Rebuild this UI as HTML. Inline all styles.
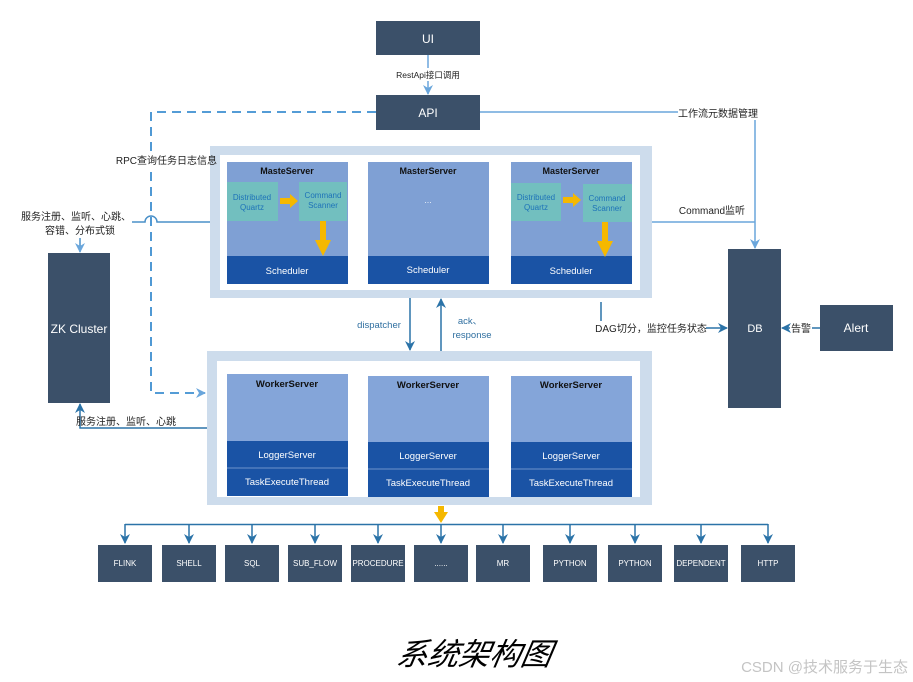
<!DOCTYPE html>
<html><head><meta charset="utf-8"><style>
html,body{margin:0;padding:0;background:#fff;}
svg{display:block;}
text{font-family:"Liberation Sans","Noto Sans CJK SC",sans-serif;}
</style></head><body>
<svg width="913" height="682" viewBox="0 0 913 682" xmlns="http://www.w3.org/2000/svg">
<defs>
<marker id="a1" markerWidth="10" markerHeight="10" refX="9" refY="5" orient="auto" markerUnits="userSpaceOnUse"><path d="M0,0 L10,5 L0,10 L3,5 Z" fill="#2b73a8"/></marker>
<marker id="a2" markerWidth="10" markerHeight="10" refX="9" refY="5" orient="auto" markerUnits="userSpaceOnUse"><path d="M0,0 L10,5 L0,10 L3,5 Z" fill="#6aa6dc"/></marker>
</defs>

<rect x="376" y="21" width="104" height="34" fill="#3b5069"/>
<text x="428" y="43" fill="#fff" font-size="12" text-anchor="middle">UI</text>
<line x1="428" y1="55" x2="428" y2="94" stroke="#6aa6dc" stroke-width="1.5" marker-end="url(#a2)"/>
<rect x="392" y="68" width="72" height="13" fill="#fff"/>
<text x="428" y="78" font-size="8.5" text-anchor="middle" fill="#222">RestApi接口调用</text>
<rect x="376" y="95" width="104" height="35" fill="#3b5069"/>
<text x="428" y="117" fill="#fff" font-size="12" text-anchor="middle">API</text>

<polyline points="480,112 755,112 755,248" fill="none" stroke="#6aa6dc" stroke-width="1.5" marker-end="url(#a2)"/>
<rect x="678" y="105" width="80" height="15" fill="#fff"/>
<text x="718" y="117" font-size="10" text-anchor="middle" fill="#222">工作流元数据管理</text>

<polyline points="376,112 151,112 151,393 205,393" fill="none" stroke="#3d8ed0" stroke-width="1.8" stroke-dasharray="9,6" marker-end="url(#a2)"/>

<path d="M210,222 L157,222 A6,6 0 0 0 145,222 L80,222" fill="none" stroke="#4a90c8" stroke-width="1.5"/>
<line x1="80" y1="232" x2="80" y2="252" stroke="#4a90c8" stroke-width="1.5" marker-end="url(#a2)"/>
<rect x="24" y="210" width="108" height="28" fill="#fff"/>
<text x="76" y="220" font-size="10" text-anchor="middle" fill="#222">服务注册、监听、心跳、</text>
<text x="80" y="234" font-size="10" text-anchor="middle" fill="#222">容错、分布式锁</text>

<polyline points="207,428 80,428 80,404" fill="none" stroke="#2b73a8" stroke-width="1.5" marker-end="url(#a1)"/>
<text x="126" y="425" font-size="10" text-anchor="middle" fill="#222">服务注册、监听、心跳</text>

<rect x="48" y="253" width="62" height="150" fill="#3b5069"/>
<text x="79" y="333" fill="#fff" font-size="12" text-anchor="middle">ZK Cluster</text>

<rect x="210" y="146" width="442" height="152" fill="#cddcec"/>
<rect x="220" y="155" width="420" height="135" fill="#fff"/>
<rect x="118" y="153" width="92" height="14" fill="#fff"/>
<text x="217" y="164" font-size="10" text-anchor="end" fill="#222">RPC查询任务日志信息</text>
<g>
<rect x="227" y="162" width="121" height="122" fill="#7fa0d4"/>
<rect x="227" y="256" width="121" height="28" fill="#1a53a5"/>
<text x="287" y="174" font-size="9" text-anchor="middle" fill="#111" font-weight="600">MasteServer</text>
<text x="287" y="274" font-size="9.5" text-anchor="middle" fill="#fff">Scheduler</text>
<rect x="227" y="182" width="51" height="39" fill="#72bfbf"/>
<text x="252" y="200" font-size="8" text-anchor="middle" fill="#1d72b8">Distributed</text>
<text x="252" y="210" font-size="8" text-anchor="middle" fill="#1d72b8">Quartz</text>
<rect x="299" y="182" width="48" height="39" fill="#72bfbf"/>
<text x="323" y="198" font-size="8" text-anchor="middle" fill="#1d72b8">Command</text>
<text x="323" y="208" font-size="8" text-anchor="middle" fill="#1d72b8">Scanner</text>
<path d="M280,198 L290,198 L290,194 L298,201 L290,208 L290,204 L280,204 Z" fill="#f5b800"/>
<path d="M320,221 L326,221 L326,240 L331,240 L323,256 L315,240 L320,240 Z" fill="#f5b800"/>
</g>
<rect x="368" y="162" width="121" height="122" fill="#7fa0d4"/>
<rect x="368" y="256" width="121" height="28" fill="#1a53a5"/>
<text x="428" y="174" font-size="9" text-anchor="middle" fill="#111" font-weight="600">MasterServer</text>
<text x="428" y="203" font-size="9" text-anchor="middle" fill="#e8eef8">...</text>
<text x="428" y="273" font-size="9.5" text-anchor="middle" fill="#fff">Scheduler</text>
<g>
<rect x="511" y="162" width="121" height="122" fill="#7fa0d4"/>
<rect x="511" y="256" width="121" height="28" fill="#1a53a5"/>
<text x="571" y="174" font-size="9" text-anchor="middle" fill="#111" font-weight="600">MasterServer</text>
<text x="571" y="274" font-size="9.5" text-anchor="middle" fill="#fff">Scheduler</text>
<rect x="511" y="183" width="50" height="38" fill="#72bfbf"/>
<text x="536" y="200" font-size="8" text-anchor="middle" fill="#1d72b8">Distributed</text>
<text x="536" y="210" font-size="8" text-anchor="middle" fill="#1d72b8">Quartz</text>
<rect x="583" y="184" width="49" height="38" fill="#72bfbf"/>
<text x="607" y="201" font-size="8" text-anchor="middle" fill="#1d72b8">Command</text>
<text x="607" y="211" font-size="8" text-anchor="middle" fill="#1d72b8">Scanner</text>
<path d="M563,197 L573,197 L573,193 L581,200 L573,207 L573,203 L563,203 Z" fill="#f5b800"/>
<path d="M602,222 L608,222 L608,241 L613,241 L605,257 L597,241 L602,241 Z" fill="#f5b800"/>
</g>

<line x1="652" y1="222" x2="755" y2="222" stroke="#6aa6dc" stroke-width="1.5"/>
<text x="712" y="214" font-size="10" text-anchor="middle" fill="#222">Command监听</text>

<line x1="410" y1="298" x2="410" y2="350" stroke="#2b73a8" stroke-width="1.5" marker-end="url(#a1)"/>
<line x1="441" y1="351" x2="441" y2="299" stroke="#2b73a8" stroke-width="1.5" marker-end="url(#a1)"/>
<text x="379" y="328" font-size="9.5" text-anchor="middle" fill="#2f6fa0">dispatcher</text>
<text x="470" y="324" font-size="9.5" text-anchor="middle" fill="#2f6fa0">ack、</text>
<text x="472" y="338" font-size="9.5" text-anchor="middle" fill="#2f6fa0">response</text>

<line x1="601" y1="302" x2="601" y2="321" stroke="#2b73a8" stroke-width="1.5"/>
<text x="651" y="332" font-size="10" text-anchor="middle" fill="#222">DAG切分，监控任务状态</text>
<line x1="706" y1="328" x2="727" y2="328" stroke="#2b73a8" stroke-width="1.5" marker-end="url(#a1)"/>

<rect x="728" y="249" width="53" height="159" fill="#3b5069"/>
<text x="755" y="332" fill="#fff" font-size="11" text-anchor="middle">DB</text>
<rect x="820" y="305" width="73" height="46" fill="#3b5069"/>
<text x="856" y="332" fill="#fff" font-size="12" text-anchor="middle">Alert</text>
<line x1="820" y1="328" x2="812" y2="328" stroke="#2b73a8" stroke-width="1.5"/>
<line x1="790" y1="328" x2="782" y2="328" stroke="#2b73a8" stroke-width="1.5" marker-end="url(#a1)"/>
<text x="801" y="332" font-size="10" text-anchor="middle" fill="#222">告警</text>

<rect x="207" y="351" width="445" height="154" fill="#cddcec"/>
<rect x="217" y="361" width="423" height="136" fill="#fff"/>
<g font-size="9.5" text-anchor="middle">
<rect x="227" y="374" width="121" height="122" fill="#84a5d9"/>
<rect x="227" y="441" width="121" height="55" fill="#1a53a5"/>
<line x1="227" y1="468" x2="348" y2="468" stroke="#6f93cc" stroke-width="1"/>
<text x="287" y="387" fill="#111" font-weight="600">WorkerServer</text>
<text x="287" y="458" fill="#fff">LoggerServer</text>
<text x="287" y="485" fill="#fff">TaskExecuteThread</text>
<rect x="368" y="376" width="121" height="121" fill="#84a5d9"/>
<rect x="368" y="442" width="121" height="55" fill="#1a53a5"/>
<line x1="368" y1="469" x2="489" y2="469" stroke="#6f93cc" stroke-width="1"/>
<text x="428" y="388" fill="#111" font-weight="600">WorkerServer</text>
<text x="428" y="459" fill="#fff">LoggerServer</text>
<text x="428" y="486" fill="#fff">TaskExecuteThread</text>
<rect x="511" y="376" width="121" height="121" fill="#84a5d9"/>
<rect x="511" y="442" width="121" height="55" fill="#1a53a5"/>
<line x1="511" y1="469" x2="632" y2="469" stroke="#6f93cc" stroke-width="1"/>
<text x="571" y="388" fill="#111" font-weight="600">WorkerServer</text>
<text x="571" y="459" fill="#fff">LoggerServer</text>
<text x="571" y="486" fill="#fff">TaskExecuteThread</text>
</g>

<path d="M438,506 L444,506 L444,512 L448,512 L441,523 L434,512 L438,512 Z" fill="#f5b800"/>

<line x1="125" y1="524.5" x2="768" y2="524.5" stroke="#2b73a8" stroke-width="1.5"/>
<g stroke="#2b73a8" stroke-width="1.5">
<line x1="125" y1="524" x2="125" y2="543" marker-end="url(#a1)"/>
<line x1="189" y1="524" x2="189" y2="543" marker-end="url(#a1)"/>
<line x1="252" y1="524" x2="252" y2="543" marker-end="url(#a1)"/>
<line x1="315" y1="524" x2="315" y2="543" marker-end="url(#a1)"/>
<line x1="378" y1="524" x2="378" y2="543" marker-end="url(#a1)"/>
<line x1="441" y1="524" x2="441" y2="543" marker-end="url(#a1)"/>
<line x1="503" y1="524" x2="503" y2="543" marker-end="url(#a1)"/>
<line x1="570" y1="524" x2="570" y2="543" marker-end="url(#a1)"/>
<line x1="635" y1="524" x2="635" y2="543" marker-end="url(#a1)"/>
<line x1="701" y1="524" x2="701" y2="543" marker-end="url(#a1)"/>
<line x1="768" y1="524" x2="768" y2="543" marker-end="url(#a1)"/>
</g>
<g fill="#3b5069">
<rect x="98" y="545" width="54" height="37"/>
<rect x="162" y="545" width="54" height="37"/>
<rect x="225" y="545" width="54" height="37"/>
<rect x="288" y="545" width="54" height="37"/>
<rect x="351" y="545" width="54" height="37"/>
<rect x="414" y="545" width="54" height="37"/>
<rect x="476" y="545" width="54" height="37"/>
<rect x="543" y="545" width="54" height="37"/>
<rect x="608" y="545" width="54" height="37"/>
<rect x="674" y="545" width="54" height="37"/>
<rect x="741" y="545" width="54" height="37"/>
</g>
<g fill="#fff" font-size="8" text-anchor="middle">
<text x="125" y="566">FLINK</text>
<text x="189" y="566">SHELL</text>
<text x="252" y="566">SQL</text>
<text x="315" y="566">SUB_FLOW</text>
<text x="378" y="566">PROCEDURE</text>
<text x="441" y="566">......</text>
<text x="503" y="566">MR</text>
<text x="570" y="566">PYTHON</text>
<text x="635" y="566">PYTHON</text>
<text x="701" y="566">DEPENDENT</text>
<text x="768" y="566">HTTP</text>
</g>

<text x="470" y="665" font-size="31" text-anchor="middle" font-style="italic" fill="#000" transform="skewX(-10) translate(120,0)">系统架构图</text>
<text x="908" y="672" font-size="15" text-anchor="end" fill="#c4c4c4">CSDN @技术服务于生态</text>
</svg>
</body></html>
